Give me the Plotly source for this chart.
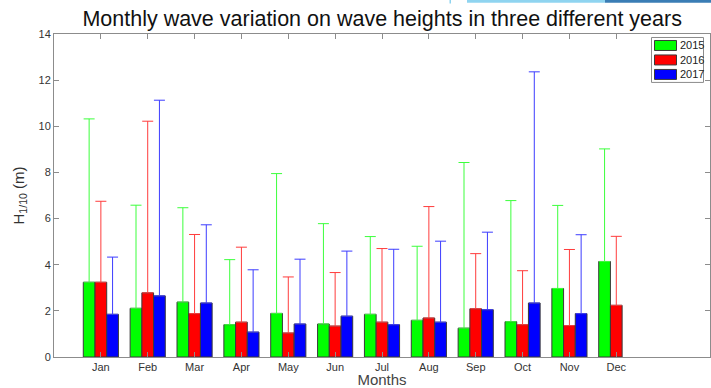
import plotly.graph_objects as go

months = ["Jan", "Feb", "Mar", "Apr", "May", "Jun", "Jul", "Aug", "Sep", "Oct", "Nov", "Dec"]
years = ["2015", "2016", "2017"]
colors = ["#00FF00", "#FF0000", "#0000FF"]
whisker_colors = ["#3cff3c", "#ff3c3c", "#3c3cff"]

h2015 = [3.24, 2.11, 2.38, 1.40, 1.89, 1.43, 1.85, 1.59, 1.25, 1.53, 2.97, 4.14]
h2016 = [3.24, 2.78, 1.88, 1.51, 1.04, 1.34, 1.51, 1.69, 2.09, 1.40, 1.36, 2.24]
h2017 = [1.85, 2.65, 2.34, 1.08, 1.43, 1.77, 1.40, 1.51, 2.05, 2.34, 1.88, None]

max2015 = [10.32, 6.58, 6.47, 4.22, 7.95, 5.78, 5.22, 4.80, 8.43, 6.78, 6.57, 9.02]
max2016 = [6.75, 10.22, 5.31, 4.76, 3.47, 3.66, 4.70, 6.52, 4.48, 3.74, 4.66, 5.23]
max2017 = [4.33, 11.13, 5.73, 3.78, 4.24, 4.59, 4.67, 5.02, 5.41, 12.36, 5.30, None]

means = [h2015, h2016, h2017]
maxes = [max2015, max2016, max2017]

x = list(range(1, 13))

FONT = "Liberation Sans, Arial, sans-serif"

fig = go.Figure()
for yr, col, wcol, m, mx in zip(years, colors, whisker_colors, means, maxes):
    up = [(b - a) if (a is not None and b is not None) else None for a, b in zip(m, mx)]
    fig.add_trace(go.Bar(
        x=x, y=m, name=yr,
        marker=dict(color=col, line=dict(color="#3a3a3a", width=1)),
        error_y=dict(type="data", symmetric=False, array=up,
                     arrayminus=[0] * len(up), color=wcol, thickness=1, width=5.5),
        showlegend=False,
    ))

shapes = []
annotations = []


def px_to_paper_x(px):
    return (px - 54) / 656.0


def py_to_paper_y(py):
    return (357.5 - py) / 323.5


# legend box (MATLAB style)
shapes.append(dict(type="rect", xref="paper", yref="paper",
                   x0=px_to_paper_x(651.5), x1=px_to_paper_x(703.5),
                   y0=py_to_paper_y(82.5), y1=py_to_paper_y(37.5),
                   line=dict(color="#8c8c8c", width=1), fillcolor="white", layer="above"))
row_y = [45.5, 60.0, 74.5]
for yr, col, ry in zip(years, colors, row_y):
    shapes.append(dict(type="rect", xref="paper", yref="paper",
                       x0=px_to_paper_x(654.5), x1=px_to_paper_x(676.5),
                       y0=py_to_paper_y(ry + 5), y1=py_to_paper_y(ry - 5),
                       line=dict(color="#3a3a3a", width=1), fillcolor=col, layer="above"))
    annotations.append(dict(xref="paper", yref="paper", x=px_to_paper_x(677.5), y=py_to_paper_y(ry),
                            text=yr, showarrow=False, xanchor="left", yanchor="middle",
                            font=dict(family=FONT, size=11, color="#222")))

# top decoration strip
shapes.append(dict(type="rect", xref="paper", yref="paper",
                   x0=px_to_paper_x(467), x1=px_to_paper_x(605),
                   y0=py_to_paper_y(2.8), y1=py_to_paper_y(0),
                   line=dict(width=0), fillcolor="#8fd4f0", layer="above"))
shapes.append(dict(type="rect", xref="paper", yref="paper",
                   x0=px_to_paper_x(605), x1=px_to_paper_x(711),
                   y0=py_to_paper_y(2.8), y1=py_to_paper_y(0),
                   line=dict(width=0), fillcolor="#3a7db5", layer="above"))
shapes.append(dict(type="rect", xref="paper", yref="paper",
                   x0=px_to_paper_x(449.5), x1=px_to_paper_x(451),
                   y0=py_to_paper_y(3.5), y1=py_to_paper_y(0),
                   line=dict(width=0), fillcolor="#8fd4f0", layer="above"))

fig.update_layout(
    width=711, height=388,
    margin=dict(l=54, r=1, t=34, b=30.5),
    paper_bgcolor="white", plot_bgcolor="white",
    barmode="group", bargap=0.25, bargroupgap=0,
    title=dict(text="Monthly wave variation on wave heights in three different years",
               x=0.5375, xanchor="center", y=0.953, yanchor="middle",
               font=dict(family=FONT, size=21.5, color="#111")),
    font=dict(family=FONT, size=11, color="#333"),
    shapes=shapes, annotations=annotations,
    showlegend=False,
)
fig.update_xaxes(range=[0, 14], tickmode="array", tickvals=x, ticktext=months,
                 ticks="inside", ticklen=5, tickcolor="#8c8c8c", mirror="ticks",
                 showline=True, linecolor="#8c8c8c", linewidth=1, showgrid=False, zeroline=False,
                 automargin=False,
                 title=dict(text="Months", standoff=0,
                            font=dict(family=FONT, size=15, color="#444")),
                 tickfont=dict(size=11, color="#333"))
fig.update_yaxes(range=[0, 14], dtick=2, ticks="inside", ticklen=5, tickcolor="#8c8c8c",
                 mirror="ticks", showline=True, linecolor="#8c8c8c", linewidth=1,
                 showgrid=False, zeroline=False, automargin=False,
                 title=dict(text="H<sub>1/10</sub> (m)", standoff=10,
                            font=dict(family=FONT, size=15, color="#333")),
                 tickfont=dict(size=11, color="#333"))

fig.write_html("out.html",
               config={"displayModeBar": False},
               post_script="document.body.style.margin='0';document.body.style.overflow='hidden';")
